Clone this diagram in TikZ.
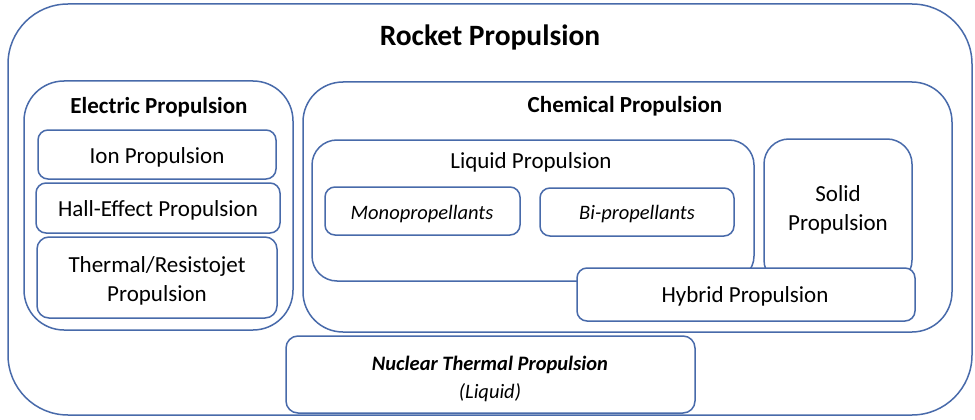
\documentclass[tikz,border=0pt]{standalone}
\usepackage{fontspec}
\setmainfont{Carlito}
\definecolor{boxblue}{RGB}{72,106,170}
\tikzset{every picture/.style={line width=1.5pt}}
\tikzset{
  frame/.style={draw=boxblue, fill=white},
  label/.style={inner sep=0.75pt, font=\fontsize{23}{28.5}\selectfont, align=center},
  heading/.style={label, font=\fontsize{23}{28.5}\selectfont\bfseries},
  kind/.style={label, font=\fontsize{20.5}{28}\selectfont\itshape}
}
\begin{document}
\begin{tikzpicture}[x=1pt,y=1pt,yscale=-1,xscale=1]
\useasboundingbox (0,0) rectangle (975,420);

%Rounded Rect: whole family
\draw [frame, rounded corners=60] (8,4) rectangle (972,415) ;
%Rounded Rect: electric group
\draw [frame, rounded corners=40] (24,81) rectangle (293,330) ;
%Rounded Rect
\draw [frame, rounded corners=10] (38,130) rectangle (276,179) ;
%Rounded Rect
\draw [frame, rounded corners=10] (36,183) rectangle (280,233) ;
%Rounded Rect
\draw [frame, rounded corners=12] (37,237) rectangle (277,318) ;
%Rounded Rect: chemical group
\draw [frame, rounded corners=40] (303,82) rectangle (952,332) ;
%Rounded Rect: liquid group
\draw [frame, rounded corners=25] (312,140) rectangle (754,281) ;
%Rounded Rect
\draw [frame, rounded corners=10] (325,187) rectangle (520,235) ;
%Rounded Rect
\draw [frame, rounded corners=10] (540,188) rectangle (734,236) ;
%Rounded Rect: solid
\draw [frame, rounded corners=25] (764,139) rectangle (912,285) ;
%Rounded Rect: hybrid, on top of liquid and solid
\draw [frame, rounded corners=10] (577,268) rectangle (915,321) ;
%Rounded Rect: nuclear
\draw [frame, rounded corners=12] (286,336) rectangle (695,413) ;

% Text Node
\draw (490,37) node [label, font=\fontsize{29.5}{34}\selectfont\bfseries] (rocket) {Rocket Propulsion};
% Text Node
\draw (159,107) node [heading] (electric) {Electric Propulsion};
% Text Node
\draw (157,157) node [label] (ion) {Ion Propulsion};
% Text Node
\draw (158,210) node [label] (hall) {Hall-Effect Propulsion};
% Text Node
\draw (157,281) node [label] (thermal) {Thermal/Resistojet\\Propulsion};
% Text Node
\draw (625,106) node [heading] (chemical) {Chemical Propulsion};
% Text Node
\draw (531,162) node [label] (liquid) {Liquid Propulsion};
% Text Node
\draw (422,214) node [kind] (mono) {Monopropellants};
% Text Node
\draw (637,214) node [kind] (bi) {Bi-propellants};
% Text Node
\draw (838,210) node [label] (solid) {Solid\\Propulsion};
% Text Node
\draw (745,296) node [label] (hybrid) {Hybrid Propulsion};
% Text Node
\draw (490,379) node [kind] (nuclear) {\bfseries Nuclear Thermal Propulsion\\(Liquid)};

\end{tikzpicture}
\end{document}
